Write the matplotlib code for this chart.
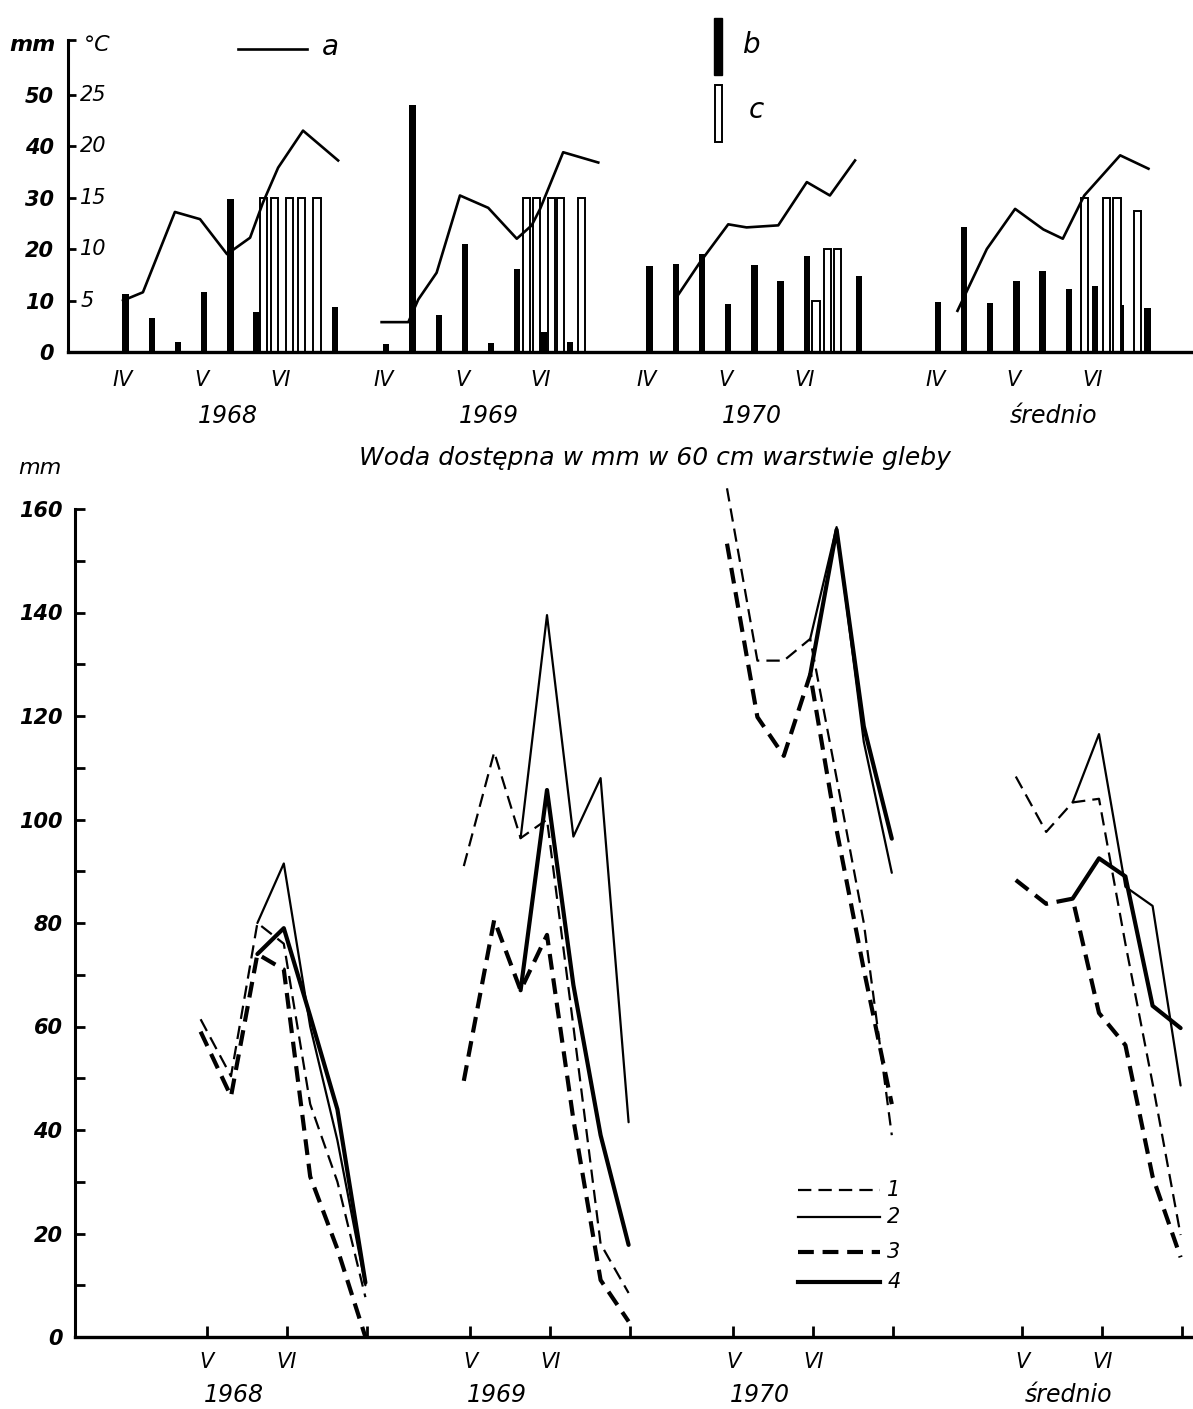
import numpy as np
import matplotlib
matplotlib.use("Agg")
import matplotlib.pyplot as plt
from matplotlib.transforms import blended_transform_factory
from matplotlib.patches import Rectangle

plt.rcParams['font.family'] = ['DejaVu Sans']
plt.rcParams['font.style'] = 'italic'

nan = np.nan

# ---------------- labels ----------------
block_names = ['1968', '1969', '1970', 'średnio']
top_month_labels = ['IV', 'V', 'VI']
top_month_decades = [0, 3, 6]          # decade index of 1 Apr, 1 May, 1 Jun
bot_month_labels = ['V', 'VI', '']
bot_month_pos = [0, 1, 2]              # months since 1 May
mm_ticks_top = [0, 10, 20, 30, 40, 50]
degc_ticks = [5, 10, 15, 20, 25]
mm_ticks_bot = [0, 20, 40, 60, 80, 100, 120, 140, 160]

# ---------------- top panel data ----------------
# a: air temperature (°C), position in decades from 1 April
temp68_k = [0.0, 0.76, 1.98, 2.94, 3.97, 4.85, 5.34, 5.92, 6.87, 8.21]
temp68_c = [5.0, 5.8, 13.6, 12.9, 9.5, 11.1, 14.5, 17.9, 21.5, 18.6]
temp69_k = [-0.08, 0.94, 1.32, 2.02, 2.91, 3.99, 5.08, 5.65, 5.97, 6.85, 8.19]
temp69_c = [2.9, 2.9, 5.1, 7.7, 15.2, 14.0, 11.0, 12.3, 13.9, 19.4, 18.4]
temp70_k = [1.07, 2.02, 3.10, 3.80, 5.01, 6.10, 6.98, 7.94]
temp70_c = [5.1, 8.7, 12.4, 12.1, 12.3, 16.5, 15.2, 18.6]
tempsr_k = [0.85, 1.97, 3.05, 4.13, 4.87, 5.69, 7.06, 8.14]
tempsr_c = [4.0, 10.0, 13.9, 11.9, 11.0, 15.2, 19.1, 17.8]

# b: precipitation per decade (mm)
rain68_dec = [0, 1, 2, 3, 4, 5, 8]
rain68_mm = [11.3, 6.7, 1.9, 11.6, 29.7, 7.7, 8.7]
rain69_dec = [0, 1, 2, 3, 4, 5, 6, 7]
rain69_mm = [1.5, 48.0, 7.1, 21.0, 1.7, 16.1, 3.8, 1.9]
rain70_dec = [0, 1, 2, 3, 4, 5, 6, 8]
rain70_mm = [16.8, 17.1, 19.0, 9.3, 16.9, 13.8, 18.6, 14.8]
rainsr_dec = [0, 1, 2, 3, 4, 5, 6, 7, 8]
rainsr_mm = [9.8, 24.2, 9.6, 13.8, 15.8, 12.3, 12.9, 9.1, 8.5]

# c: irrigation doses (mm), date in decades from 1 April
irr68_k = [5.37, 5.78, 6.36, 6.80, 7.41]
irr68_mm = [30, 30, 30, 30, 30]
irr69_k = [5.45, 5.84, 6.41, 6.76, 7.56]
irr69_mm = [30, 30, 30, 30, 30]
irr70_k = [6.45, 6.90, 7.28]
irr70_mm = [10, 20, 20]
irrsr_k = [5.69, 6.53, 6.94, 7.72]
irrsr_mm = [30, 30, 30, 27.4]

# ---------------- bottom panel data ----------------
# measurement dates in months since 1 May
soil_dates = [-0.08, 0.30, 0.63, 0.96, 1.29, 1.63, 1.98]
w68_1 = [61.4, 50.4, 80.0, 76.0, 45.0, 30.0, 7.7]
w68_2 = [nan, nan, 80.0, 91.5, 60.0, 38.0, 10.0]
w68_3 = [59.0, 46.5, 74.0, 71.0, 31.0, 17.0, 0.0]
w68_4 = [nan, nan, 74.0, 79.0, 62.0, 44.0, 10.5]
w69_1 = [91.0, 113.0, 96.4, 100.0, 60.0, 18.0, 8.5]
w69_2 = [nan, nan, 96.4, 139.5, 96.7, 108.0, 41.5]
w69_3 = [49.5, 80.6, 67.0, 77.7, 42.0, 11.0, 3.0]
w69_4 = [nan, nan, 67.0, 105.7, 68.0, 39.0, 17.8]
w70_1 = [164.0, 130.7, 130.7, 134.9, 108.0, 80.0, 39.0]
w70_2 = [nan, nan, nan, 134.9, 156.5, 115.0, 89.7]
w70_3 = [153.3, 119.8, 112.3, 128.0, 98.0, 71.0, 45.0]
w70_4 = [nan, nan, nan, 128.0, 156.0, 118.0, 96.3]
wsr_1 = [108.3, 97.6, 103.3, 104.0, 76.0, 49.0, 19.7]
wsr_2 = [nan, nan, 103.3, 116.5, 87.0, 83.3, 48.6]
wsr_3 = [88.3, 83.7, 84.7, 62.6, 56.4, 31.0, 15.4]
wsr_4 = [nan, nan, 84.7, 92.5, 89.0, 64.0, 59.7]

legend_labels = ['1', '2', '3', '4']

# ---------------- layout ----------------
W, H = 1193, 1409
top_off = [0.0, 9.95, 20.0, 31.0]        # block offsets (decades)
bot_off = [0.0, 3.29, 6.58, 10.19]       # block offsets (months)

temps_k = [temp68_k, temp69_k, temp70_k, tempsr_k]
temps_c = [temp68_c, temp69_c, temp70_c, tempsr_c]
rains_d = [rain68_dec, rain69_dec, rain70_dec, rainsr_dec]
rains_v = [rain68_mm, rain69_mm, rain70_mm, rainsr_mm]
irrs_k = [irr68_k, irr69_k, irr70_k, irrsr_k]
irrs_v = [irr68_mm, irr69_mm, irr70_mm, irrsr_mm]
soil = [[w68_1, w68_2, w68_3, w68_4],
        [w69_1, w69_2, w69_3, w69_4],
        [w70_1, w70_2, w70_3, w70_4],
        [wsr_1, wsr_2, wsr_3, wsr_4]]

styles = [dict(lw=1.6, ls=(0, (6, 3.2))),
          dict(lw=1.6, ls='-'),
          dict(lw=3.0, ls=(0, (3.8, 2.1))),
          dict(lw=3.0, ls='-')]


def px_rect(left, top, right, bottom):
    return [left / W, 1 - bottom / H, (right - left) / W, (bottom - top) / H]


fig = plt.figure(figsize=(W / 100, H / 100), dpi=100)

# ================= TOP PANEL =================
ax_top = fig.add_axes(px_rect(68, 40, 1193, 352))
ax_top.set_facecolor('none')
ax_top.set_xlim(-2.1, 40.84)
ax_top.set_ylim(0, 60.6)
for s in ['top', 'right']:
    ax_top.spines[s].set_visible(False)
ax_top.spines['left'].set_linewidth(2.2)
ax_top.spines['bottom'].set_linewidth(2.4)

ax_top.set_yticks(mm_ticks_top + [60.6])
ax_top.set_yticklabels([str(v) for v in mm_ticks_top] + [''],
                       fontsize=15, fontweight='bold')
ax_top.tick_params(axis='y', direction='in', length=6, width=2, pad=10)

xt, xl = [], []
for off in top_off:
    for d, lab in zip(top_month_decades, top_month_labels):
        xt.append(off + d)
        xl.append(lab)
ax_top.set_xticks(xt)
ax_top.set_xticklabels(xl, fontsize=15)
ax_top.tick_params(axis='x', length=0, pad=13)

trC = blended_transform_factory(ax_top.transAxes, ax_top.transData)
for c in degc_ticks:
    ax_top.text(0.011, 2 * c, str(c), transform=trC, ha='left', va='center',
                fontsize=15)

for off, kd, kv in zip(top_off, rains_d, rains_v):
    ax_top.bar(np.array(kd) + 0.1 + off, kv, width=0.24, color='black',
               zorder=2)
for off, ik, iv in zip(top_off, irrs_k, irrs_v):
    ax_top.bar(np.array(ik) + off, iv, width=0.28, facecolor='white',
               edgecolor='black', linewidth=1.4, zorder=2.5)

axT = ax_top.twinx()
axT.set_ylim(0, 60.6 / 2)
axT.axis('off')
for off, tk, tc in zip(top_off, temps_k, temps_c):
    axT.plot(np.array(tk) + off, tc, color='black', lw=1.9, zorder=3)

trY = blended_transform_factory(ax_top.transData, ax_top.transAxes)
for off, name in zip(top_off, block_names):
    dx = 4.5 if name == 'średnio' else 4.0
    ax_top.text(off + dx, -0.205, name, transform=trY, ha='center',
                va='center', fontsize=17)

# ================= BOTTOM PANEL =================
y_top_px = 1337 - 168 * 5.175
ax_bot = fig.add_axes(px_rect(75, y_top_px, 1193, 1337))
ax_bot.set_facecolor('none')
ax_bot.set_xlim(-1.65, 12.325)
ax_bot.set_ylim(0, 168)
for s in ['top', 'right']:
    ax_bot.spines[s].set_visible(False)
ax_bot.spines['left'].set_linewidth(2.2)
ax_bot.spines['left'].set_bounds(0, 160)
ax_bot.spines['bottom'].set_linewidth(2.4)

ax_bot.set_yticks(mm_ticks_bot)
ax_bot.set_yticklabels([str(v) for v in mm_ticks_bot], fontsize=15,
                       fontweight='bold')
ax_bot.set_yticks(np.arange(10, 160, 20), minor=True)
ax_bot.tick_params(axis='y', which='both', direction='in', length=7,
                   width=2, pad=9)

bxt, bxl = [], []
for off in bot_off:
    for m, lab in zip(bot_month_pos, bot_month_labels):
        bxt.append(off + m)
        bxl.append(lab)
ax_bot.set_xticks(bxt)
ax_bot.set_xticklabels(bxl, fontsize=15)
ax_bot.tick_params(axis='x', direction='in', length=8, width=2, pad=11)

for off, series in zip(bot_off, soil):
    for vals, st in zip(series, styles):
        ax_bot.plot(np.array(soil_dates) + off, vals, color='black',
                    dash_capstyle='butt', solid_capstyle='round', **st)

trB = blended_transform_factory(ax_bot.transData, ax_bot.transAxes)
for off, name in zip(bot_off, block_names):
    dx = 0.58 if name == 'średnio' else 0.33
    ax_bot.text(off + dx, -0.067, name, transform=trB, ha='center',
                va='center', fontsize=17)

# ================= OVERLAY (legends, titles) =================
ax_o = fig.add_axes([0, 0, 1, 1])
ax_o.set_xlim(0, W)
ax_o.set_ylim(H, 0)
ax_o.axis('off')
ax_o.patch.set_alpha(0)
ax_o.set_zorder(5)

ax_o.text(32, 45, 'mm', fontsize=16, fontweight='bold', ha='center',
          va='center')
ax_o.text(97, 45, '°C', fontsize=16, ha='center', va='center')

ax_o.plot([238, 307], [49, 49], color='black', lw=1.9)
ax_o.text(330, 47, 'a', fontsize=20, ha='center', va='center')
ax_o.add_patch(Rectangle((714, 18), 8, 57, facecolor='black',
                         edgecolor='black'))
ax_o.text(752, 45, 'b', fontsize=20, ha='center', va='center')
ax_o.add_patch(Rectangle((715, 85), 7, 57, facecolor='white',
                         edgecolor='black', lw=1.4))
ax_o.text(756, 110, 'c', fontsize=20, ha='center', va='center')

ax_o.text(655, 458, 'Woda dostępna w mm w 60 cm warstwie gleby',
          fontsize=18, ha='center', va='center')
ax_o.text(40, 468, 'mm', fontsize=16, ha='center', va='center')

for ypx, lab, st in zip([1190, 1217, 1252, 1282], legend_labels, styles):
    ax_o.plot([798, 880], [ypx, ypx], color='black', dash_capstyle='butt',
              **st)
    ax_o.text(894, ypx, lab, fontsize=15, ha='center', va='center')

fig.savefig('out.png', dpi=100)
